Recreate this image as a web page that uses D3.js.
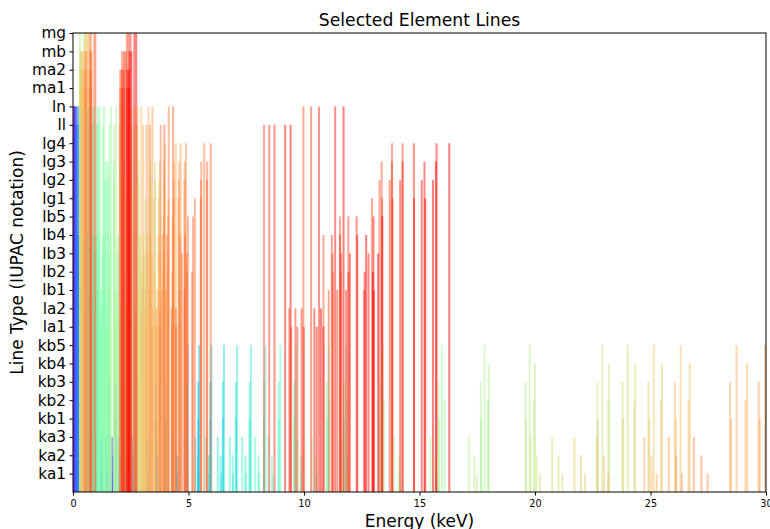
<!DOCTYPE html>
<html>
<head>
<meta charset="utf-8">
<script src="https://cdn.jsdelivr.net/npm/d3@7"></script>
<style>
body { margin: 0; background: #fff; }
text { font-family: "DejaVu Sans", sans-serif; fill: #000; }
</style>
</head>
<body>
<svg id="chart" width="770" height="529"></svg>
<script>
// line types, bottom to top
const lineTypes = ["ka1","ka2","ka3","kb1","kb2","kb3","kb4","kb5","la1","la2","lb1","lb2","lb3","lb4","lb5",
                   "lg1","lg2","lg3","lg4","ll","ln","ma1","ma2","mb","mg"];

const elements = ["Na","Mg","Al","Si","P","S","Cl","K","Ca","Ti","V","Cr","Mn","Fe","Co","Ni","Cu","Zn",
                  "Ge","As","Br","Sr","Zr","Mo","Rh","Pd","Ag","Cd","Sn","Sb","Te","Cs","Ba","Pt","Au","Hg","Pb","Bi"];

// energies in keV: [line type, energy]
const Na_lines = [["ka1",1.041],["ka2",1.041],["ka3",1.009],["kb1",1.071],["ll",0.030],["ln",0.030]];
const Mg_lines = [["ka1",1.254],["ka2",1.253],["ka3",1.214],["kb1",1.302],["ll",0.049],["ln",0.049]];
const Al_lines = [["ka1",1.487],["ka2",1.486],["ka3",1.442],["kb1",1.557],["kb3",1.557],["ll",0.072],["ln",0.072]];
const Si_lines = [["ka1",1.740],["ka2",1.739],["ka3",1.689],["kb1",1.836],["kb3",1.836],["ll",0.092],["ln",0.092],["lb3",0.147],["lb4",0.147]];
const P_lines  = [["ka1",2.014],["ka2",2.013],["ka3",1.957],["kb1",2.139],["kb3",2.139],["ll",0.120],["ln",0.120],["lb3",0.179],["lb4",0.179]];
const S_lines  = [["ka1",2.308],["ka2",2.307],["ka3",2.241],["kb1",2.464],["kb3",2.464],["ll",0.148],["ln",0.149],["lb3",0.223],["lb4",0.223]];
const Cl_lines = [["ka1",2.622],["ka2",2.621],["ka3",2.552],["kb1",2.815],["kb3",2.815],["ll",0.182],["ln",0.184],["lb3",0.263],["lb4",0.263]];
const K_lines  = [["ka1",3.314],["ka2",3.311],["ka3",3.231],["kb1",3.590],["kb3",3.590],["ll",0.260],["ln",0.262],["lb3",0.359],["lb4",0.359]];
const Ca_lines = [["ka1",3.692],["ka2",3.688],["ka3",3.600],["kb1",4.013],["kb3",4.012],["ll",0.302],["ln",0.306],["lb3",0.413],["lb4",0.413],["la1",0.341],["lb1",0.345]];
const Ti_lines = [["ka1",4.511],["ka2",4.505],["ka3",4.405],["kb1",4.932],["kb3",4.931],["kb5",4.963],["la1",0.452],["la2",0.452],["lb1",0.458],["lb3",0.527],["lb4",0.527],["ll",0.395],["ln",0.401]];
const V_lines  = [["ka1",4.952],["ka2",4.945],["ka3",4.838],["kb1",5.427],["kb3",5.426],["kb5",5.463],["la1",0.511],["la2",0.511],["lb1",0.519],["lb3",0.589],["lb4",0.589],["ll",0.446],["ln",0.453]];
const Cr_lines = [["ka1",5.415],["ka2",5.405],["ka3",5.293],["kb1",5.947],["kb3",5.946],["kb5",5.987],["la1",0.573],["la2",0.573],["lb1",0.583],["lb3",0.654],["lb4",0.654],["ll",0.500],["ln",0.510]];
const Mn_lines = [["ka1",5.899],["ka2",5.888],["ka3",5.770],["kb1",6.490],["kb3",6.489],["kb5",6.535],["la1",0.637],["la2",0.637],["lb1",0.649],["lb3",0.720],["lb4",0.720],["ll",0.556],["ln",0.567]];
const Fe_lines = [["ka1",6.404],["ka2",6.391],["ka3",6.267],["kb1",7.058],["kb3",7.057],["kb5",7.108],["la1",0.705],["la2",0.705],["lb1",0.718],["lb3",0.792],["lb4",0.792],["ll",0.615],["ln",0.628]];
const Co_lines = [["ka1",6.930],["ka2",6.915],["ka3",6.784],["kb1",7.649],["kb3",7.648],["kb5",7.706],["la1",0.776],["la2",0.776],["lb1",0.791],["lb3",0.866],["lb4",0.866],["ll",0.678],["ln",0.694]];
const Ni_lines = [["ka1",7.478],["ka2",7.461],["ka3",7.325],["kb1",8.265],["kb3",8.263],["kb5",8.329],["la1",0.852],["la2",0.852],["lb1",0.869],["lb3",0.940],["lb4",0.940],["ll",0.743],["ln",0.762]];
const Cu_lines = [["ka1",8.048],["ka2",8.028],["ka3",7.883],["kb1",8.905],["kb3",8.903],["kb5",8.976],["la1",0.930],["la2",0.930],["lb1",0.950],["lb3",1.022],["lb4",1.022],["ll",0.811],["ln",0.832]];
const Zn_lines = [["ka1",8.639],["ka2",8.616],["ka3",8.465],["kb1",9.572],["kb3",9.570],["kb5",9.650],["la1",1.012],["la2",1.012],["lb1",1.035],["lb3",1.107],["lb4",1.107],["ll",0.884],["ln",0.907]];
const Ge_lines = [["ka1",9.886],["ka2",9.855],["ka3",9.688],["kb1",10.982],["kb3",10.978],["kb5",11.074],["kb2",11.100],
                  ["la1",1.188],["la2",1.188],["lb1",1.219],["lb3",1.294],["lb4",1.290],["lg2",1.412],["lg3",1.412],["ll",1.037],["ln",1.068]];
const As_lines = [["ka1",10.544],["ka2",10.508],["ka3",10.340],["kb1",11.726],["kb3",11.720],["kb5",11.826],["kb2",11.864],
                  ["la1",1.282],["la2",1.282],["lb1",1.317],["lb3",1.386],["lb4",1.383],["lg2",1.524],["lg3",1.524],["ll",1.120],["ln",1.155]];
const Br_lines = [["ka1",11.924],["ka2",11.878],["ka3",11.692],["kb1",13.291],["kb3",13.284],["kb5",13.404],["kb2",13.469],
                  ["la1",1.480],["la2",1.480],["lb1",1.526],["lb3",1.600],["lb4",1.596],["lg2",1.776],["lg3",1.776],["ll",1.293],["ln",1.339]];
const Sr_lines = [["ka1",14.165],["ka2",14.098],["ka3",13.889],["kb1",15.836],["kb3",15.825],["kb5",15.972],["kb2",16.085],
                  ["la1",1.806],["la2",1.806],["lb1",1.872],["lb3",1.947],["lb4",1.948],["lg2",2.196],["lg3",2.196],["ll",1.582],["ln",1.649]];
const Zr_lines = [["ka1",15.775],["ka2",15.691],["ka3",15.466],["kb1",17.668],["kb3",17.654],["kb5",17.817],["kb2",17.970],["kb4",17.996],
                  ["la1",2.042],["la2",2.040],["lb1",2.124],["lb2",2.219],["lb3",2.201],["lb4",2.187],["lg1",2.302],["lg2",2.502],["lg3",2.502],["ll",1.792],["ln",1.876]];
const Mo_lines = [["ka1",17.479],["ka2",17.374],["ka3",17.134],["kb1",19.608],["kb3",19.590],["kb5",19.771],["kb2",19.965],["kb4",19.998],
                  ["la1",2.293],["la2",2.290],["lb1",2.395],["lb2",2.518],["lb3",2.473],["lb4",2.456],["lg1",2.623],["lg2",2.830],["lg3",2.833],["ll",2.016],["ln",2.120],["mg",0.300]];
const Rh_lines = [["ka1",20.216],["ka2",20.074],["ka3",19.808],["kb1",22.724],["kb3",22.699],["kb5",22.911],["kb2",23.172],["kb4",23.209],
                  ["la1",2.697],["la2",2.692],["lb1",2.834],["lb2",3.001],["lb3",2.915],["lb4",2.891],["lg1",3.144],["lg2",3.364],["lg3",3.364],["ll",2.377],["ln",2.519],
                  ["ma1",0.307],["ma2",0.307],["mb",0.312],["mg",0.460]];
const Pd_lines = [["ka1",21.177],["ka2",21.020],["ka3",20.746],["kb1",23.819],["kb3",23.791],["kb5",24.012],["kb2",24.299],["kb4",24.340],
                  ["la1",2.839],["la2",2.833],["lb1",2.990],["lb2",3.172],["lb3",3.073],["lb4",3.046],["lg1",3.328],["lg2",3.552],["lg3",3.553],["ll",2.503],["ln",2.660],
                  ["ma1",0.335],["ma2",0.335],["mb",0.340],["mg",0.520]];
const Ag_lines = [["ka1",22.163],["ka2",21.990],["ka3",21.708],["kb1",24.942],["kb3",24.911],["kb5",25.144],["kb2",25.456],["kb4",25.500],
                  ["la1",2.984],["la2",2.978],["lb1",3.151],["lb2",3.348],["lb3",3.234],["lb4",3.203],["lg1",3.519],["lg2",3.743],["lg3",3.750],["ll",2.634],["ln",2.806],
                  ["ma1",0.367],["ma2",0.367],["mb",0.373],["mg",0.570]];
const Cd_lines = [["ka1",23.174],["ka2",22.984],["ka3",22.693],["kb1",26.095],["kb3",26.061],["kb5",26.304],["kb2",26.644],["kb4",26.700],
                  ["la1",3.134],["la2",3.127],["lb1",3.317],["lb2",3.528],["lb3",3.401],["lb4",3.367],["lg1",3.716],["lg2",3.951],["lg3",3.951],["lg4",3.980],["ll",2.767],["ln",2.957],
                  ["ma1",0.405],["ma2",0.405],["mb",0.411],["mg",0.610]];
const Sn_lines = [["ka1",25.271],["ka2",25.044],["ka3",24.735],["kb1",28.486],["kb3",28.444],["kb5",28.724],["kb2",29.109],["kb4",29.183],
                  ["la1",3.444],["la2",3.435],["lb1",3.663],["lb2",3.905],["lb3",3.750],["lb4",3.708],["lb5",3.920],["lg1",4.131],["lg2",4.376],["lg3",4.376],["lg4",4.450],["ll",3.045],["ln",3.272],
                  ["ma1",0.485],["ma2",0.485],["mb",0.494],["mg",0.690]];
const Sb_lines = [["ka1",26.359],["ka2",26.111],["ka3",25.793],["kb1",29.726],["kb3",29.679],["kb5",29.962],
                  ["la1",3.605],["la2",3.595],["lb1",3.843],["lb2",4.101],["lb3",3.933],["lb4",3.886],["lb5",4.120],["lg1",4.348],["lg2",4.591],["lg3",4.599],["lg4",4.660],["ll",3.189],["ln",3.437],
                  ["ma1",0.528],["ma2",0.528],["mb",0.537],["mg",0.730]];
const Te_lines = [["ka1",27.472],["ka2",27.202],["ka3",26.875],
                  ["la1",3.769],["la2",3.758],["lb1",4.030],["lb2",4.302],["lb3",4.120],["lb4",4.070],["lb5",4.320],["lg1",4.571],["lg2",4.829],["lg3",4.837],["lg4",4.890],["ll",3.336],
                  ["ma1",0.572],["ma2",0.572],["mb",0.582],["mg",0.780]];
const Cs_lines = [["la1",4.286],["la2",4.272],["lb1",4.620],["lb2",4.936],["lb3",4.717],["lb4",4.649],["lb5",4.980],["lg1",5.280],["lg2",5.541],["lg3",5.553],["lg4",5.680],["ll",3.795],["ln",4.142],
                  ["ma1",0.726],["ma2",0.726],["mb",0.740],["mg",0.920]];
const Ba_lines = [["la1",4.466],["la2",4.451],["lb1",4.828],["lb2",5.156],["lb3",4.927],["lb4",4.852],["lb5",5.200],["lg1",5.531],["lg2",5.797],["lg3",5.809],["lg4",5.960],["ll",3.954],["ln",4.331],
                  ["ma1",0.781],["ma2",0.781],["mb",0.796],["mg",0.970]];
const Pt_lines = [["la1",9.442],["la2",9.361],["lb1",11.071],["lb2",11.251],["lb3",11.233],["lb4",10.842],["lb5",11.560],["lg1",12.942],["lg2",13.270],["lg3",13.361],["lg4",13.810],["ll",8.268],["ln",9.975],
                  ["ma1",2.051],["ma2",2.048],["mb",2.127],["mg",2.333]];
const Au_lines = [["la1",9.713],["la2",9.628],["lb1",11.442],["lb2",11.585],["lb3",11.610],["lb4",11.205],["lb5",11.920],["lg1",13.382],["lg2",13.709],["lg3",13.807],["lg4",14.270],["ll",8.494],["ln",10.309],
                  ["ma1",2.123],["ma2",2.118],["mb",2.205],["mg",2.410]];
const Hg_lines = [["la1",9.989],["la2",9.898],["lb1",11.823],["lb2",11.924],["lb3",11.992],["lb4",11.561],["lb5",12.280],["lg1",13.830],["lg2",14.162],["lg3",14.264],["lg4",14.760],["ll",8.722],["ln",10.651],
                  ["ma1",2.195],["ma2",2.191],["mb",2.282],["mg",2.487]];
const Pb_lines = [["la1",10.551],["la2",10.449],["lb1",12.614],["lb2",12.623],["lb3",12.793],["lb4",12.307],["lb5",13.010],["lg1",14.764],["lg2",15.097],["lg3",15.216],["lg4",15.740],["ll",9.184],["ln",11.349],
                  ["ma1",2.346],["ma2",2.342],["mb",2.443],["mg",2.653]];
const Bi_lines = [["la1",10.839],["la2",10.731],["lb1",13.024],["lb2",12.980],["lb3",13.211],["lb4",12.691],["lb5",13.390],["lg1",15.248],["lg2",15.582],["lg3",15.709],["lg4",16.290],["ll",9.419],["ln",11.712],
                  ["ma1",2.423],["ma2",2.418],["mb",2.526],["mg",2.736]];

const elementLines = [Na_lines, Mg_lines, Al_lines, Si_lines, P_lines, S_lines, Cl_lines, K_lines, Ca_lines,
  Ti_lines, V_lines, Cr_lines, Mn_lines, Fe_lines, Co_lines, Ni_lines, Cu_lines, Zn_lines,
  Ge_lines, As_lines, Br_lines, Sr_lines, Zr_lines, Mo_lines, Rh_lines, Pd_lines, Ag_lines, Cd_lines,
  Sn_lines, Sb_lines, Te_lines, Cs_lines, Ba_lines, Pt_lines, Au_lines, Hg_lines, Pb_lines, Bi_lines];

const xTicks = [0, 5, 10, 15, 20, 25, 30];

const plotL = 73, plotR = 766, plotT = 33, plotB = 492;
const svg = d3.select("#chart");

const x = d3.scaleLinear().domain([0, 30]).range([plotL, plotR]);
const y = d3.scaleLinear().domain([-1, lineTypes.length - 1]).range([plotB, plotT]);

// matplotlib "rainbow" colormap
function rainbow(t) {
  const r = Math.min(1, Math.abs(2 * t - 0.5));
  const g = Math.sin(Math.PI * t);
  const b = Math.cos(Math.PI * t / 2);
  return d3.rgb(r * 255, g * 255, b * 255).toString();
}
const cpos = d3.scaleLinear().domain([0, elements.length - 1]).range([0, 1]);

svg.append("clipPath").attr("id", "plotclip")
  .append("rect").attr("x", plotL).attr("y", plotT).attr("width", plotR - plotL).attr("height", plotB - plotT);

const flat = [];
elementLines.forEach((lines, i) => {
  lines.forEach(([type, e]) => flat.push({ el: i, type: type, e: e }));
});

svg.append("g").attr("clip-path", "url(#plotclip)")
  .selectAll("line")
  .data(flat)
  .enter()
  .append("line")
  .attr("x1", d => x(d.e))
  .attr("x2", d => x(d.e))
  .attr("y1", y(-1))
  .attr("y2", d => y(lineTypes.indexOf(d.type)))
  .attr("stroke", d => rainbow(cpos(d.el)))
  .attr("stroke-width", 2)
  .attr("stroke-opacity", 0.5);

// axes
const yAxis = d3.axisLeft(y)
  .tickValues(d3.range(lineTypes.length))
  .tickFormat(i => lineTypes[i])
  .tickSize(3.5).tickSizeOuter(0).tickPadding(3.5);
const gy = svg.append("g").attr("transform", `translate(${plotL},0)`).call(yAxis);
gy.selectAll("text").style("font-size", "15.3px").attr("font-family", null);
gy.select(".domain").remove();

const xAxis = d3.axisBottom(x).tickValues(xTicks).tickSize(3.5).tickSizeOuter(0).tickPadding(4.5);
const gx = svg.append("g").attr("transform", `translate(0,${plotB})`).call(xAxis);
gx.selectAll("text").style("font-size", "9.7px").attr("font-family", null);
gx.select(".domain").remove();

svg.selectAll(".tick line").attr("stroke", "#000").attr("stroke-width", 1);

svg.append("rect")
  .attr("x", plotL).attr("y", plotT).attr("width", plotR - plotL).attr("height", plotB - plotT)
  .attr("fill", "none").attr("stroke", "#000").attr("stroke-width", 1);

svg.append("text")
  .attr("x", (plotL + plotR) / 2).attr("y", 26)
  .attr("text-anchor", "middle").style("font-size", "17.2px")
  .text("Selected Element Lines");

svg.append("text")
  .attr("x", (plotL + plotR) / 2).attr("y", 527)
  .attr("text-anchor", "middle").style("font-size", "17px")
  .text("Energy (keV)");

svg.append("text")
  .attr("transform", `translate(23,${(plotT + plotB) / 2}) rotate(-90)`)
  .attr("text-anchor", "middle").style("font-size", "17px")
  .text("Line Type (IUPAC notation)");
</script>
</body>
</html>
